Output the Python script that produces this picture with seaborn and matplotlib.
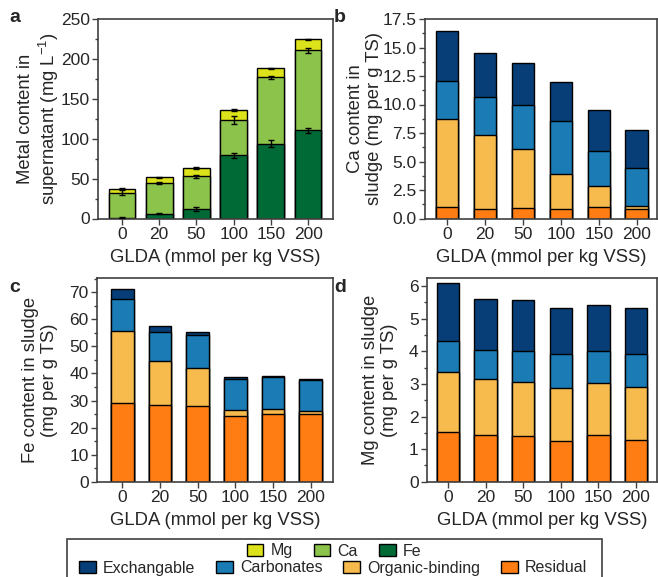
import matplotlib
matplotlib.use("Agg")
import matplotlib.pyplot as plt
import pandas as pd
import seaborn as sns
from matplotlib.patches import Patch, Rectangle
from matplotlib.ticker import AutoMinorLocator, MultipleLocator, FormatStrFormatter

GLDA = ["0", "20", "50", "100", "150", "200"]

# panel a: metal content in supernatant (mg/L), stacked Fe -> Ca -> Mg
sup_fe = [1.2, 6.2, 12.5, 79.0, 93.8, 110.4]
sup_ca = [31.3, 38.4, 40.5, 45.0, 82.9, 100.6]
sup_mg = [5.0, 7.1, 10.3, 12.0, 11.6, 13.6]
err_fe = [0.5, 1.0, 2.5, 3.0, 4.0, 3.0]
err_ca = [3.0, 1.0, 2.0, 5.0, 2.0, 3.0]
err_mg = [0.8, 0.8, 0.8, 0.8, 0.8, 0.8]

# panels b-d: fractions in sludge (mg per g TS)
ca_res = [1.00, 0.85, 0.96, 0.85, 1.02, 0.85]
ca_org = [7.76, 6.47, 5.11, 3.09, 1.84, 0.25]
ca_carb = [3.29, 3.35, 3.90, 4.61, 3.09, 3.33]
ca_exch = [4.38, 3.85, 3.65, 3.41, 3.59, 3.33]

fe_res = [29.0, 28.2, 28.1, 24.3, 24.9, 25.1]
fe_org = [26.8, 16.4, 13.8, 2.1, 1.8, 1.15]
fe_carb = [11.6, 10.6, 12.2, 11.7, 11.9, 11.25]
fe_exch = [3.7, 2.35, 1.2, 0.7, 0.5, 0.3]

mg_res = [1.52, 1.44, 1.41, 1.24, 1.43, 1.28]
mg_org = [1.86, 1.71, 1.66, 1.64, 1.61, 1.63]
mg_carb = [0.93, 0.89, 0.94, 1.04, 0.97, 1.01]
mg_exch = [1.79, 1.57, 1.56, 1.41, 1.42, 1.41]

C_MG, C_CA, C_FE = "#dde31a", "#8cc34a", "#006a36"
C_EXCH, C_CARB, C_ORG, C_RES = "#073e77", "#1a7bb5", "#f7ba4d", "#ff7d12"
SPINE = "#404040"

sns.set_style("ticks")
plt.rcParams["font.family"] = ["Liberation Sans", "DejaVu Sans"]
plt.rcParams["mathtext.fontset"] = "custom"
plt.rcParams["mathtext.rm"] = "Liberation Sans"
plt.rcParams["mathtext.it"] = "Liberation Sans"

W, H = 658, 577
fig = plt.figure(figsize=(W / 100, H / 100), dpi=100)


def make_axes(left, right, top, bottom):
    return fig.add_axes([left / W, 1 - bottom / H, (right - left) / W, (bottom - top) / H])


def stacked(ax, layers, colors, width):
    # draw cumulative totals from the top layer down so lower layers overlay
    tops = []
    run = [0.0] * len(GLDA)
    for vals in layers:
        run = [r + v for r, v in zip(run, vals)]
        tops.append(list(run))
    for cum, col in reversed(list(zip(tops, colors))):
        df = pd.DataFrame({"GLDA": GLDA, "value": cum})
        sns.barplot(data=df, x="GLDA", y="value", order=GLDA, color=col,
                    edgecolor="black", linewidth=1.0, width=width,
                    saturation=1, errorbar=None, ax=ax)
    return tops


def style(ax, ylabel, ymax, major, xlim, ylab_x):
    ax.set_ylim(0, ymax)
    ax.set_xlim(*xlim)
    ax.yaxis.set_major_locator(MultipleLocator(major))
    ax.yaxis.set_minor_locator(AutoMinorLocator(2))
    ax.set_xlabel("GLDA (mmol per kg VSS)", fontsize=13.3, labelpad=5)
    ax.set_ylabel(ylabel, fontsize=13.3, linespacing=1.15)
    ax.yaxis.set_label_coords(ylab_x, 0.5)
    ax.tick_params(axis="both", labelsize=12.5, length=4, width=1, color=SPINE, pad=2)
    ax.tick_params(axis="y", which="minor", length=2.5, width=1, color=SPINE)
    for sp in ax.spines.values():
        sp.set_visible(True)
        sp.set_color(SPINE)
        sp.set_linewidth(1.2)


# a
ax_a = make_axes(98, 333, 19, 218.5)
tops = stacked(ax_a, [sup_fe, sup_ca, sup_mg], [C_FE, C_CA, C_MG], 0.72)
for cum, err in zip(tops, [err_fe, err_ca, err_mg]):
    ax_a.errorbar(range(len(GLDA)), cum, yerr=err, fmt="none", ecolor="black",
                  elinewidth=1, capsize=2.5, capthick=1, zorder=5)
style(ax_a, "Metal content in\nsupernatant (mg L$^{-1}$)", 250, 50, (-0.645, 5.67), -0.158)

# b
ax_b = make_axes(425, 657, 19, 218.5)
stacked(ax_b, [ca_res, ca_org, ca_carb, ca_exch], [C_RES, C_ORG, C_CARB, C_EXCH], 0.6)
style(ax_b, "Ca content in\nsludge (mg per g TS)", 17.5, 2.5, (-0.58, 5.53), -0.181)
ax_b.yaxis.set_major_formatter(FormatStrFormatter("%.1f"))

# c
ax_c = make_axes(97, 333, 278, 481.7)
stacked(ax_c, [fe_res, fe_org, fe_carb, fe_exch], [C_RES, C_ORG, C_CARB, C_EXCH], 0.6)
style(ax_c, "Fe content in sludge\n(mg per g TS)", 75.3, 10, (-0.67, 5.59), -0.165)

# d
ax_d = make_axes(427, 657, 278, 481.7)
stacked(ax_d, [mg_res, mg_org, mg_carb, mg_exch], [C_RES, C_ORG, C_CARB, C_EXCH], 0.6)
style(ax_d, "Mg content in sludge\n(mg per g TS)", 6.25, 1, (-0.56, 5.56), -0.127)

for lab, x, y in [("a", 15, 18), ("b", 340, 18), ("c", 15, 287), ("d", 340, 287)]:
    fig.text(x / W, 1 - y / H, lab, fontsize=14, fontweight="bold", ha="center", va="center")

# legend box
fig.patches.append(Rectangle((67 / W, -0.02), (602 - 67) / W, (577 - 539) / H + 0.02,
                             transform=fig.transFigure, fill=False, edgecolor=SPINE,
                             linewidth=1.2))
h1 = [Patch(facecolor=c, edgecolor="black", label=l)
      for c, l in [(C_MG, "Mg"), (C_CA, "Ca"), (C_FE, "Fe")]]
h2 = [Patch(facecolor=c, edgecolor="black", label=l)
      for c, l in [(C_EXCH, "Exchangable"), (C_CARB, "Carbonates"),
                   (C_ORG, "Organic-binding"), (C_RES, "Residual")]]
leg_kw = dict(frameon=False, fontsize=11.5, handlelength=1.05, handleheight=0.8,
              handletextpad=0.45, borderpad=0, borderaxespad=0, columnspacing=1.3)
fig.legend(handles=h1, ncol=3, loc="center", bbox_to_anchor=(334 / W, 1 - 551 / H), **leg_kw)
fig.legend(handles=h2, ncol=4, loc="center", bbox_to_anchor=(333 / W, 1 - 568 / H), **leg_kw)

fig.savefig("out.png", dpi=100)
